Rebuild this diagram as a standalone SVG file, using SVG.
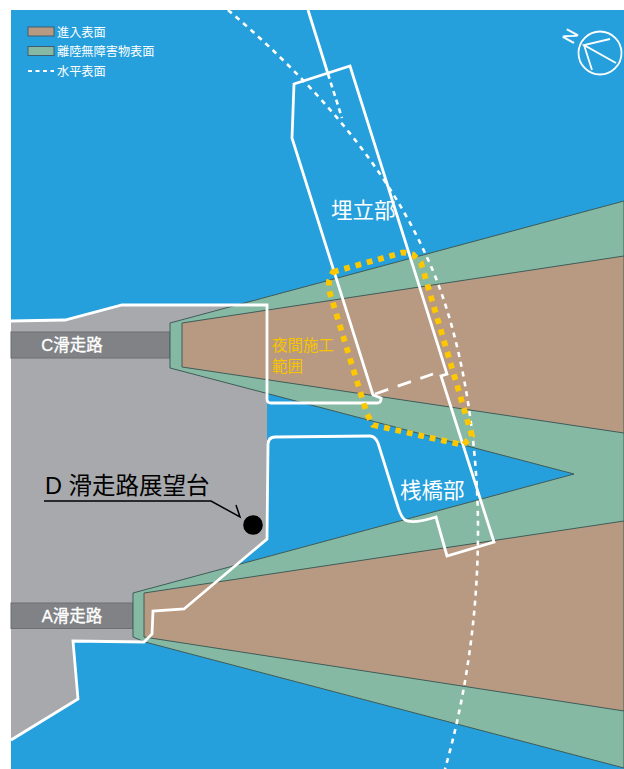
<svg xmlns="http://www.w3.org/2000/svg" width="624" height="769" viewBox="0 0 624 769">
<style>
.g{fill:#86b9a4;stroke:#3f5c58;stroke-width:1}
.b{fill:#b89a82;stroke:#3f5c58;stroke-width:1}
.r{fill:#808285;stroke:#6d6e71;stroke-width:1}
.w{fill:none;stroke:#fff;stroke-width:2.8;stroke-linejoin:miter}
.t{font-family:"Liberation Sans","Noto Sans CJK JP",sans-serif}
.wt{fill:#fff}
.lg{font-size:12.2px}
.rw{font-size:16.5px;text-anchor:middle;stroke:#fff;stroke-width:0.35px}
.big{font-size:21.5px}
.y{fill:#f7c400;font-size:15.5px}
</style>
<rect width="624" height="769" fill="#fff"/>
<rect x="11" y="10" width="613" height="759" fill="#25a0dc"/>
<g id="land">
<path d="M11,321L65,320L122,305L267,305L267,539L184,609L153,611L152,634L144,642L73,641L78,699L11,740Z" fill="#a7a9ac"/>
</g>
<g id="c-runway">
<rect class="r" x="11" y="332" width="159" height="26"/>
<text class="t wt rw" x="72" y="351">C滑走路</text>
</g>
<g id="a-runway">
<rect class="r" x="11" y="603" width="122" height="25.500"/>
<text class="t wt rw" x="72" y="622">A滑走路</text>
</g>
<g id="surfaces">
<path class="g" d="M170,323L624,201V768L145,642L133,637V593L574,474L170,368Z"/>
<path class="b" d="M182,323L624,256V433L182,367Z"/>
<path class="b" d="M144,593L624,521V711L144,637Z"/>
</g>
<g id="connectors">
<path d="M228,10C308,78 382,159 425,253C462,330 478,440 478,530C478,610 467,692 445,769" fill="none" stroke="#fff" stroke-width="2.600" stroke-dasharray="5 5"/>
<path class="w" d="M308,10L328,74"/>
<path d="M328,74L342,118" fill="none" stroke="#fff" stroke-width="2.600" stroke-dasharray="5 4"/>
<path class="w" d="M375,394L433,374" stroke-dasharray="14 10"/>
<path class="w" d="M11,321L65,320L122,305L267,305L267,399Q267,403 271,403L377,403Q381,403 381,399V398L373,395L292,138L294,84L350,66L447,374L441,376L494,542L447,556L436,517C420,522 410,523 405,520C401,517 400,513 398,507L378,443Q375,436 370,436L275,437Q268,437 268,445L267,539L184,609L153,611L152,634L144,642L73,641L78,699L11,740"/>
<path d="M333,272L403,252.500L413,254.500L421,263L472,436L463,445L373,425L367,414L332,300L329,290L329,281Z" fill="none" stroke="#fdc800" stroke-width="5.800" stroke-dasharray="5.800 5.900"/>
<path d="M44,501H211L240,517L236,505" fill="none" stroke="#000" stroke-width="1.500"/>
</g>
<g id="legend">
<rect x="28" y="27" width="26" height="9" fill="#b89a82" stroke="#3f5c70" stroke-width="1"/>
<rect x="28" y="46.500" width="26" height="9" fill="#86b9a4" stroke="#3f5c70" stroke-width="1"/>
<path d="M28,71H54" stroke="#fff" stroke-width="2.200" stroke-dasharray="4 3.500"/>
<text class="t wt lg" x="57" y="36.500">進入表面</text>
<text class="t wt lg" x="57" y="56">離陸無障害物表面</text>
<text class="t wt lg" x="57" y="75.500">水平表面</text>
</g>
<g id="compass">
<circle cx="600" cy="53" r="21.500" fill="none" stroke="#fff" stroke-width="1.800"/>
<path d="M610,39L584,45L616,63M584,45L592,70" fill="none" stroke="#fff" stroke-width="1.800"/>
<text class="t wt" transform="translate(570,36) rotate(-61)" y="6.500" font-size="18" text-anchor="middle" stroke="#fff" stroke-width="0.300">N</text>
</g>
<g id="label-umetate"><text class="t wt big" x="331" y="217.500">埋立部</text></g>
<g id="label-sankyo"><text class="t wt big" x="400" y="498">桟橋部</text></g>
<g id="label-night">
<text class="t y" x="272" y="351">夜間施工</text>
<text class="t y" x="272" y="372">範囲</text>
</g>
<g id="label-d">
<text class="t" x="45" y="494" font-size="23.500px" fill="#000">D 滑走路展望台</text>
<circle cx="253" cy="525" r="9.800" fill="#000"/>
</g>
</svg>
